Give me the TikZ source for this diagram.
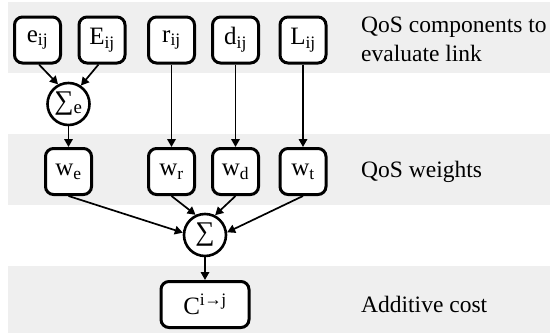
\documentclass[tikz,border=0pt]{standalone}
\usepackage{fontspec}
\setmainfont{Liberation Serif}
\usetikzlibrary{arrows.meta}
\definecolor{bandgray}{HTML}{EFEFEF}
\begin{document}
\begin{tikzpicture}[x=1pt,y=-1pt,
  band/.style={fill=bandgray, draw=none},
  qbox/.style={draw, line width=3pt, rounded corners=8pt, fill=white,
    minimum width=46pt, minimum height=46pt, inner sep=0pt,
    font=\fontsize{25}{28}\selectfont},
  sumnode/.style={draw, circle, line width=2.6pt, fill=white,
    minimum size=42pt, inner sep=0pt, font=\fontsize{27}{30}\selectfont},
  rowtext/.style={anchor=base west, inner sep=0pt,
    font=\fontsize{23.5}{28}\selectfont},
  conn/.style={line width=1.7pt, -{Triangle[length=8pt,width=8.5pt]}}
]
\useasboundingbox (0,0) rectangle (550,335);

% shaded rows
\fill[band] (8,2) rectangle (550,73);
\fill[band] (8,134) rectangle (550,205);
\fill[band] (8,266) rectangle (550,333);

% QoS components
\node[qbox] (e) at (37.5,40) {e\textsubscript{ij}};
\node[qbox] (E) at (102,40) {E\textsubscript{ij}};
\node[qbox] (r) at (171.5,40) {r\textsubscript{ij}};
\node[qbox] (d) at (235.5,40) {d\textsubscript{ij}};
\node[qbox] (L) at (303,40) {L\textsubscript{ij}};

% energy sum
\node[sumnode] (se) at (68.5,104) {∑\textsubscript{e}};

% weights
\node[qbox] (we) at (68.5,171.5) {w\textsubscript{e}};
\node[qbox] (wr) at (171.5,171.5) {w\textsubscript{r}};
\node[qbox] (wd) at (235.5,171.5) {w\textsubscript{d}};
\node[qbox] (wt) at (303,171.5) {w\textsubscript{t}};

% total sum and cost
\node[sumnode] (s) at (205,235) {∑};
\node[qbox, minimum width=88pt] (c) at (205,304.5) {C\textsuperscript{i\kern-0.5pt→\kern-0.5pt j}};

% connectors
\draw[conn] ([xshift=1.5pt]e.south) -- (se.118);
\draw[conn] ([xshift=-3.5pt]E.south) -- (se.56);
\draw[conn] (se) -- (we);
\draw[conn] (r) -- (wr);
\draw[conn] (d) -- (wd);
\draw[conn] (L) -- (wt);
\draw[conn] (we.south) -- (s.174);
\draw[conn] (wr.south) -- (s.115);
\draw[conn] (wd.south) -- (s.63);
\draw[conn] (wt.south) -- (s.7);
\draw[conn] (s) -- (c);

% row captions
\node[rowtext] (t1) at (361,32) {QoS components to};
\node[rowtext] (t2) at (361,61) {evaluate link};
\node[rowtext] (t3) at (361,177) {QoS weights};
\node[rowtext] (t4) at (361,312) {Additive cost};
\end{tikzpicture}
\end{document}
